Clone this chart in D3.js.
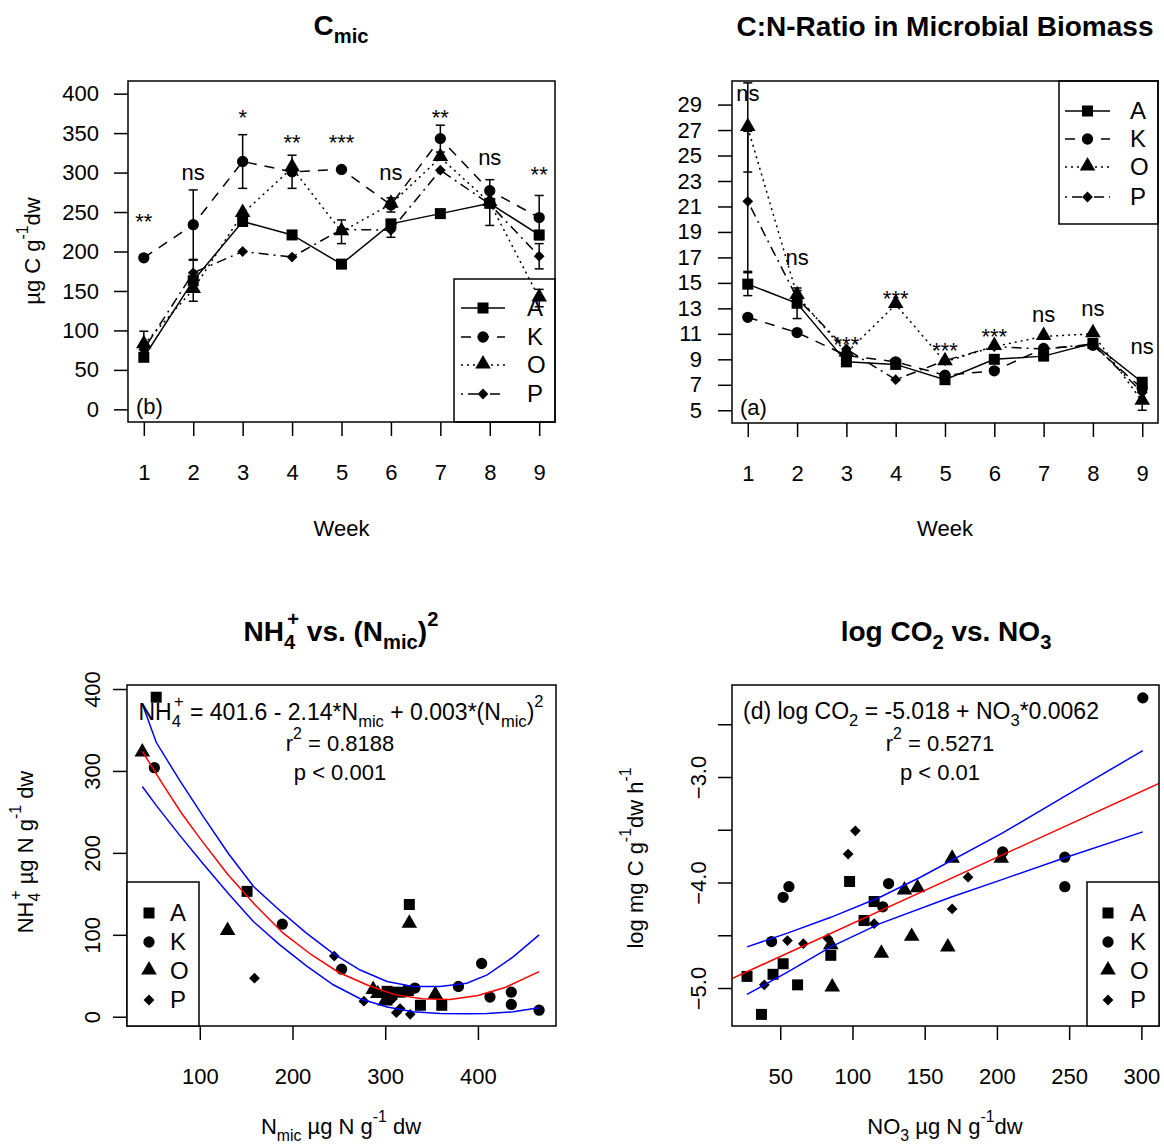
<!DOCTYPE html>
<html>
<head>
<meta charset="utf-8">
<script src="https://cdn.jsdelivr.net/npm/d3@7"></script>
<style>
body { margin: 0; background: #fff; }
svg text { font-family: "Liberation Sans", Arial, sans-serif; fill: #000; }
</style>
</head>
<body>
<div id="chart"></div>
<script>
// ---- data ----
var weeks = [1, 2, 3, 4, 5, 6, 7, 8, 9];
var treatments = ["A", "K", "O", "P"];

// (b) C_mic, µg C g-1 dw
var cmicA = [66, 163, 238, 221, 184, 235, 248, 261, 221];
var cmicK = [192, 234, 314, 301, 304, 259, 343, 277, 243];
var cmicO = [82, 152, 248, 306, 225, 260, 319, 262, 141];
var cmicP = [76, 173, 200, 193, 228, 227, 303, 260, 194];
var cmicErrA = [5, 0, 0, 0, 0, 0, 0, 0, 0];
var cmicErrK = [0, 44, 34, 21, 0, 9, 17, 0, 28];
var cmicErrO = [17, 15, 0, 0, 15, 0, 0, 29, 11];
var cmicErrP = [0, 16, 0, 0, 0, 9, 0, 0, 16];
var cmicSig = ["**", "ns", "*", "**", "***", "ns", "**", "ns", "**"];
var cmicSigY = [229, 290, 360, 329, 329, 290, 360, 310, 288];
var cmicTicks = [0, 50, 100, 150, 200, 250, 300, 350, 400];

// (a) C:N ratio in microbial biomass
var cnA = [14.9, 13.4, 8.8, 8.6, 7.4, 9.0, 9.25, 10.25, 7.2];
var cnK = [12.3, 11.1, 9.3, 8.8, 7.75, 8.1, 9.85, 10.1, 6.7];
var cnO = [27.2, 14.0, 9.5, 13.3, 8.8, 10.0, 10.8, 11.0, 5.7];
var cnP = [21.4, 13.8, 9.8, 7.4, 8.9, 10.0, 9.8, 10.2, 6.4];
var cnErrA = [0.9, 1.2, 0, 0, 0, 0, 0, 0, 0.2];
var cnErrK = [0, 0, 0, 0, 0, 0, 0, 0, 0];
var cnErrO = [3.5, 0.4, 0, 0, 0, 0, 0, 0, 0.7];
var cnErrP = [5.5, 0, 0, 0, 0, 0, 0, 0, 0];
var cnSig = ["ns", "ns", "***", "***", "***", "***", "ns", "ns", "ns"];
var cnSigY = [29.3, 16.4, 9.6, 13.2, 9.1, 10.2, 11.9, 12.4, 9.4];
var cnTicks = [5, 7, 9, 11, 13, 15, 17, 19, 21, 23, 25, 27, 29];

// (c) NH4+ vs N_mic
var nmicA = [53, 151, 326, 338, 361, 302, 312, 325];
var nh4A = [390, 153, 137, 14, 14, 31, 30, 32];
var nmicK = [51, 189, 253, 404, 379, 413, 436, 436, 466, 332, 320, 305];
var nh4K = [304, 113, 58, 65, 37, 24, 30, 15, 8, 35, 30, 22];
var nmicO = [38, 130, 326, 354, 287, 300, 292];
var nh4O = [322, 104, 113, 26, 32, 18, 27];
var nmicP = [159, 245, 277, 312, 327, 316, 290, 308];
var nh4P = [47, 74, 19, 5, 3, 10, 30, 22];
var fitNmic = [38, 60, 80, 100, 130, 160, 190, 220, 250, 280, 310, 340, 370, 400, 430, 466];
var fitNh4 = [324, 284, 249, 218, 174, 136, 102, 76, 54, 39, 27, 22, 21, 26, 36, 55];
var bandNmic = [38, 53, 78, 104, 131, 158, 186, 215, 244, 273, 302, 330, 359, 388, 410, 438, 466];
var bandUpNh4 = [382, 335, 289, 244, 199, 159, 130, 102, 77, 57, 43, 37, 37, 41, 51, 73, 100];
var bandLoNh4 = [281, 258, 222, 186, 150, 116, 88, 62, 39, 22, 12, 6, 4, 3.5, 4, 6, 11];
var nmicTicks = [100, 200, 300, 400];
var nh4Ticks = [0, 100, 200, 300, 400];

// (d) log CO2 vs NO3
var no3A = [27, 37, 45, 52, 62, 85, 98, 108, 115];
var lco2A = [-4.89, -5.25, -4.87, -4.77, -4.97, -4.69, -3.99, -4.36, -4.18];
var no3K = [44, 52, 56, 125, 121, 204, 247, 247, 301];
var lco2K = [-4.56, -4.14, -4.04, -4.01, -4.23, -3.71, -3.76, -4.04, -2.25];
var no3O = [86, 85, 120, 136, 145, 141, 166, 169, 203];
var lco2O = [-5.0, -4.6, -4.68, -4.08, -4.06, -4.52, -4.62, -3.78, -3.78];
var no3P = [39, 55, 66, 83, 97, 102, 115, 169, 180];
var lco2P = [-4.97, -4.55, -4.58, -4.53, -3.73, -3.51, -4.39, -4.25, -3.95];
var co2FitNo3 = [16.6, 312.2];
var co2FitY = [-4.91, -3.06];
var co2UpNo3 = [27, 55, 85, 119, 147, 204, 246, 301];
var co2UpY = [-4.61, -4.48, -4.33, -4.14, -3.95, -3.53, -3.19, -2.75];
var co2LoNo3 = [27, 55, 85, 119, 168, 204, 246, 301];
var co2LoY = [-5.06, -4.85, -4.61, -4.39, -4.14, -3.97, -3.77, -3.52];
var no3Ticks = [50, 100, 150, 200, 250, 300];
var lco2Ticks = [-5.0, -4.5, -4.0, -3.5, -3.0, -2.5];

// ---- drawing ----
var font = "'Liberation Sans', Arial, sans-serif";
var dashes = { A: null, K: "10,8", O: "2,4", P: "2,5,10,5" };

var svg = d3.select("#chart").append("svg")
    .attr("width", 1164).attr("height", 1146);

function frame(b) {
    svg.append("rect")
        .attr("x", b.left).attr("y", b.top)
        .attr("width", b.right - b.left).attr("height", b.bottom - b.top)
        .attr("fill", "none").attr("stroke", "#000").attr("stroke-width", 1.5);
}

function styleAxis(g) {
    g.select(".domain").remove();
    g.attr("font-family", font).attr("font-size", 22);
    g.selectAll("line").attr("stroke-width", 1.5);
}

function xAxis(x, b, ticks, fmt) {
    var g = svg.append("g").attr("transform", `translate(0,${b.bottom})`)
        .call(d3.axisBottom(x).tickValues(ticks).tickSize(14).tickPadding(28).tickFormat(fmt || d3.format("d")));
    styleAxis(g);
}

function yAxis(y, b, ticks, pad) {
    var g = svg.append("g").attr("transform", `translate(${b.left},0)`)
        .call(d3.axisLeft(y).tickValues(ticks).tickSize(14).tickPadding(pad).tickFormat(d3.format("d")));
    styleAxis(g);
}

// rotated tick labels (R style, las = 0)
function yAxisRot(y, b, ticks, fmt, off) {
    var g = svg.append("g").attr("transform", `translate(${b.left},0)`)
        .call(d3.axisLeft(y).tickValues(ticks).tickSize(14).tickFormat(fmt));
    styleAxis(g);
    g.selectAll(".tick text")
        .attr("x", null).attr("y", null).attr("dy", null)
        .attr("text-anchor", "middle")
        .attr("transform", `translate(${-off},0) rotate(-90)`);
}

function symbolPath(t) {
    if (t == "A") return d3.symbol(d3.symbolSquare, 121)();
    if (t == "K") return d3.symbol(d3.symbolCircle, 100)();
    if (t == "O") return d3.symbol(d3.symbolTriangle, 105)();
    return d3.symbol(d3.symbolSquare, 58)();
}

function drawSymbol(g, t, cx, cy) {
    var rot = t == "P" ? " rotate(45)" : (t == "O" ? " translate(0,-1)" : "");
    g.append("path").attr("d", symbolPath(t))
        .attr("transform", `translate(${cx},${cy})${rot}`)
        .attr("fill", "#000");
}

// rich text helper: parts = [[text, "sub"|"sup"|null, dx], ...]
function richText(x, y, parts, opts) {
    opts = opts || {};
    var size = opts.size || 22;
    var t = svg.append("text").attr("x", x).attr("y", y)
        .attr("font-size", size)
        .attr("font-weight", opts.bold ? "bold" : null)
        .attr("text-anchor", opts.anchor || "middle");
    if (opts.rotate) t.attr("transform", `rotate(-90,${x},${y})`);
    var shift = 0;
    parts.forEach(p => {
        var s = t.append("tspan").text(p[0]);
        var target = p[1] == "sub" ? 0.3 : (p[1] == "sup" ? -0.55 : 0);
        if (p[1]) s.attr("font-size", size * 0.72);
        var d = target - shift;
        if (d != 0) s.attr("dy", (d * size) + "px");
        if (p[2]) s.attr("dx", p[2]);
        shift = target;
    });
    return t;
}

function timePanel(b, yDomain, series, errs, ticks, sig, sigY, padY, tag) {
    var x = d3.scaleLinear().domain([0.68, 9.32]).range([b.left, b.right]);
    var y = d3.scaleLinear().domain(yDomain).range([b.bottom, b.top]);
    var g = svg.append("g");

    treatments.forEach((t, i) => {
        var vals = series[i];
        // error bars
        weeks.forEach((w, j) => {
            var e = errs[i][j];
            if (!e) return;
            var cx = x(w), y0 = y(vals[j] - e), y1 = y(vals[j] + e);
            g.append("line").attr("x1", cx).attr("x2", cx).attr("y1", y0).attr("y2", y1)
                .attr("stroke", "#000").attr("stroke-width", 1.5);
            [y0, y1].forEach(yy => g.append("line").attr("x1", cx - 4.5).attr("x2", cx + 4.5)
                .attr("y1", yy).attr("y2", yy).attr("stroke", "#000").attr("stroke-width", 1.5));
        });
        g.append("path")
            .datum(vals)
            .attr("d", d3.line().x((d, j) => x(weeks[j])).y(d => y(d)))
            .attr("fill", "none").attr("stroke", "#000").attr("stroke-width", 1.5)
            .attr("stroke-dasharray", dashes[t]);
        vals.forEach((v, j) => drawSymbol(g, t, x(weeks[j]), y(v)));
    });

    sig.forEach((s, j) => {
        svg.append("text").attr("x", x(weeks[j])).attr("y", y(sigY[j]))
            .attr("text-anchor", "middle").attr("font-size", 22).text(s);
    });

    frame(b);
    xAxis(x, b, weeks);
    yAxis(y, b, ticks, padY);

    svg.append("text").attr("x", b.left + 8).attr("y", b.bottom - 8)
        .attr("font-size", 22).text(tag);
    richText((b.left + b.right) / 2, 536, [["Week"]]);
    return { x: x, y: y };
}

function lineLegend(lg) {
    svg.append("rect").attr("x", lg.x0).attr("y", lg.y0)
        .attr("width", lg.x1 - lg.x0).attr("height", lg.y1 - lg.y0)
        .attr("fill", "none").attr("stroke", "#000").attr("stroke-width", 1.5);
    treatments.forEach((t, i) => {
        var yy = lg.rows[i];
        svg.append("line").attr("x1", lg.lx0).attr("x2", lg.lx1).attr("y1", yy).attr("y2", yy)
            .attr("stroke", "#000").attr("stroke-width", 1.5).attr("stroke-dasharray", dashes[t]);
        drawSymbol(svg, t, (lg.lx0 + lg.lx1) / 2, yy);
        svg.append("text").attr("x", lg.tx).attr("y", yy + 8).attr("font-size", 24).text(t);
    });
}

function pointLegend(lg) {
    svg.append("rect").attr("x", lg.x0).attr("y", lg.y0)
        .attr("width", lg.x1 - lg.x0).attr("height", lg.y1 - lg.y0)
        .attr("fill", "#fff").attr("stroke", "#000").attr("stroke-width", 1.5);
    treatments.forEach((t, i) => {
        var yy = lg.rows[i];
        drawSymbol(svg, t, lg.sx, yy);
        svg.append("text").attr("x", lg.tx).attr("y", yy + 8).attr("font-size", 24).text(t);
    });
}

// ---- panel (b): C_mic ----
var b1 = { left: 128, right: 555, top: 81, bottom: 422 };
timePanel(b1, [-16, 416], [cmicA, cmicK, cmicO, cmicP],
    [cmicErrA, cmicErrK, cmicErrO, cmicErrP], cmicTicks, cmicSig, cmicSigY, 15, "(b)");
lineLegend({ x0: 454, x1: 555, y0: 279, y1: 422, lx0: 461, lx1: 505, tx: 527, rows: [308, 337, 365, 394] });
richText(341, 35, [["C"], ["mic", "sub"]], { bold: true, size: 28 });
richText(40, 251, [["µg C g"], ["-1", "sup"], ["dw"]], { rotate: true });

// ---- panel (a): C:N ratio ----
var b2 = { left: 732, right: 1158, top: 81, bottom: 423 };
timePanel(b2, [4, 30.85], [cnA, cnK, cnO, cnP],
    [cnErrA, cnErrK, cnErrO, cnErrP], cnTicks, cnSig, cnSigY, 16, "(a)");
lineLegend({ x0: 1059, x1: 1158, y0: 81, y1: 224, lx0: 1065, lx1: 1110, tx: 1130, rows: [111, 139, 167, 197] });
richText(945, 36, [["C:N-Ratio in Microbial Biomass"]], { bold: true, size: 28 });

// ---- panel (c): NH4+ vs N_mic ----
var b3 = { left: 127, right: 556, top: 685, bottom: 1026 };
var x3 = d3.scaleLinear().domain([21.5, 484.2]).range([b3.left, b3.right]);
var y3 = d3.scaleLinear().domain([-11.3, 404.9]).range([b3.bottom, b3.top]);

var pts3 = [[nmicA, nh4A], [nmicK, nh4K], [nmicO, nh4O], [nmicP, nh4P]];
treatments.forEach((t, i) => {
    pts3[i][0].forEach((v, j) => drawSymbol(svg, t, x3(v), y3(pts3[i][1][j])));
});
var line3 = d3.line().x(d => x3(d[0])).y(d => y3(d[1]));
svg.append("path").attr("d", line3(d3.zip(bandNmic, bandUpNh4)))
    .attr("fill", "none").attr("stroke", "#0000ff").attr("stroke-width", 1.5);
svg.append("path").attr("d", line3(d3.zip(bandNmic, bandLoNh4)))
    .attr("fill", "none").attr("stroke", "#0000ff").attr("stroke-width", 1.5);
svg.append("path").attr("d", line3(d3.zip(fitNmic, fitNh4)))
    .attr("fill", "none").attr("stroke", "#ff0000").attr("stroke-width", 1.5);

frame(b3);
xAxis(x3, b3, nmicTicks);
yAxisRot(y3, b3, nh4Ticks, d3.format("d"), 27);
pointLegend({ x0: 127, x1: 199, y0: 882, y1: 1026, sx: 149, tx: 170, rows: [913, 942, 971, 1000] });

richText(341, 720, [["NH"], ["4", "sub"], ["+", "sup", -7], [" = 401.6 - 2.14*N"], ["mic", "sub"], [" + 0.003*(N"], ["mic", "sub"], [")"], ["2", "sup"]], { size: 23 });
richText(340, 751, [["r"], ["2", "sup"], [" = 0.8188"]]);
richText(340, 780, [["p < 0.001"]]);
richText(341, 641, [["NH"], ["4", "sub"], ["+", "sup", -8], [" vs. (N"], ["mic", "sub"], [")"], ["2", "sup"]], { bold: true, size: 28 });
richText(341, 1134, [["N"], ["mic", "sub"], [" µg N g"], ["-1", "sup"], [" dw"]]);
richText(33, 852, [["NH"], ["4", "sub"], ["+", "sup", -7], [" µg N g"], ["-1", "sup"], [" dw"]], { rotate: true });

// ---- panel (d): log CO2 vs NO3 ----
var b4 = { left: 732, right: 1159, top: 685, bottom: 1026 };
var x4 = d3.scaleLinear().domain([16.6, 312.2]).range([b4.left, b4.right]);
var y4 = d3.scaleLinear().domain([-5.36, -2.128]).range([b4.bottom, b4.top]);

svg.append("clipPath").attr("id", "clip4").append("rect")
    .attr("x", b4.left).attr("y", b4.top).attr("width", b4.right - b4.left).attr("height", b4.bottom - b4.top);

var pts4 = [[no3A, lco2A], [no3K, lco2K], [no3O, lco2O], [no3P, lco2P]];
treatments.forEach((t, i) => {
    pts4[i][0].forEach((v, j) => drawSymbol(svg, t, x4(v), y4(pts4[i][1][j])));
});
var line4 = d3.line().x(d => x4(d[0])).y(d => y4(d[1]));
svg.append("path").attr("d", line4(d3.zip(co2UpNo3, co2UpY)))
    .attr("fill", "none").attr("stroke", "#0000ff").attr("stroke-width", 1.5);
svg.append("path").attr("d", line4(d3.zip(co2LoNo3, co2LoY)))
    .attr("fill", "none").attr("stroke", "#0000ff").attr("stroke-width", 1.5);
svg.append("path").attr("d", line4(d3.zip(co2FitNo3, co2FitY)))
    .attr("clip-path", "url(#clip4)")
    .attr("fill", "none").attr("stroke", "#ff0000").attr("stroke-width", 1.5);

frame(b4);
xAxis(x4, b4, no3Ticks);
yAxisRot(y4, b4, lco2Ticks, d => Number.isInteger(d) ? d3.format(".1f")(d) : "", 26);
pointLegend({ x0: 1087, x1: 1159, y0: 882, y1: 1026, sx: 1108, tx: 1130, rows: [913, 942, 971, 1000] });

richText(743, 719, [["(d) log CO"], ["2", "sub"], [" = -5.018 + NO"], ["3", "sub"], ["*0.0062"]], { anchor: "start", size: 23 });
richText(940, 751, [["r"], ["2", "sup"], [" = 0.5271"]]);
richText(940, 780, [["p < 0.01"]]);
richText(946, 641, [["log CO"], ["2", "sub"], [" vs. NO"], ["3", "sub"]], { bold: true, size: 28 });
richText(945, 1134, [["NO"], ["3", "sub"], [" µg N g"], ["-1", "sup"], ["dw"]]);
richText(643, 858, [["log mg C g"], ["-1", "sup"], ["dw h"], ["-1", "sup"]], { rotate: true });
</script>
</body>
</html>
